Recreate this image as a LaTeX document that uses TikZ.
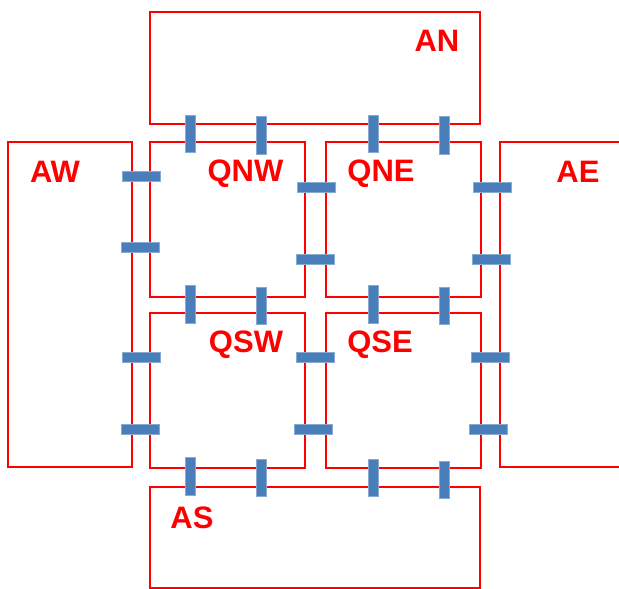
\documentclass[tikz,border=0pt]{standalone}
\usepackage{fontspec}
\setmainfont{Liberation Sans}
\definecolor{boxred}{RGB}{255,0,0}
\definecolor{barblue}{RGB}{74,126,187}
\begin{document}
\begin{tikzpicture}[x=1pt,y=-1pt,
  region/.style={draw=boxred,line width=2.2pt,inner sep=0pt,outer sep=0pt},
  vbar/.style={fill=barblue,draw=barblue!65!white,line width=0.6pt,minimum width=10pt,minimum height=37.5pt,inner sep=0pt},
  hbar/.style={fill=barblue,draw=barblue!65!white,line width=0.6pt,minimum width=38pt,minimum height=10pt,inner sep=0pt},
  lbl/.style={text=boxred,font=\fontsize{31}{31}\selectfont\bfseries,inner sep=0pt,anchor=base}]
\useasboundingbox (0,0) rectangle (619,589);
\clip (0,0) rectangle (619,589);
% regions
\node[region,minimum width=330pt,minimum height=112pt] (AN) at (315,68) {};
\node[region,minimum width=124pt,minimum height=325pt] (AW) at (70,304.5) {};
\node[region,minimum width=150pt,minimum height=325pt] (AE) at (575,304.5) {};
\node[region,minimum width=330pt,minimum height=101.5pt] (AS) at (315,537.5) {};
\node[region,minimum width=155pt,minimum height=155pt] (QNW) at (227.5,219.5) {};
\node[region,minimum width=155pt,minimum height=155pt] (QNE) at (403.5,219.5) {};
\node[region,minimum width=155pt,minimum height=155pt] (QSW) at (227.5,390.2) {};
\node[region,minimum width=155pt,minimum height=155pt] (QSE) at (403.5,390.5) {};
% labels
\node[lbl] (tAN) at (437,51.7) {AN};
\node[lbl] (tAW) at (55,182.3) {AW};
\node[lbl] (tAE) at (578,182.3) {AE};
\node[lbl] (tQNW) at (245.5,181.5) {QNW};
\node[lbl] (tQNE) at (381,181.5) {QNE};
\node[lbl] (tQSW) at (246,352.5) {QSW};
\node[lbl] (tQSE) at (380,352.5) {QSE};
\node[lbl] (tAS) at (192,528.3) {AS};
% vertical bars
\node[vbar] (b1) at (190,134) {};
\node[vbar] (b2) at (261.7,135.5) {};
\node[vbar] (b3) at (373,134) {};
\node[vbar] (b4) at (444.7,135.5) {};
\node[vbar] (b5) at (190,304.5) {};
\node[vbar] (b6) at (261.7,306) {};
\node[vbar] (b7) at (373,304.5) {};
\node[vbar] (b8) at (444.7,306) {};
\node[vbar] (b9) at (190,476.5) {};
\node[vbar] (b10) at (261.7,478) {};
\node[vbar] (b11) at (373,478) {};
\node[vbar] (b12) at (444.7,480) {};
% horizontal bars
\node[hbar] (h1) at (141.7,176) {};
\node[hbar] (h2) at (140,247.5) {};
\node[hbar] (h3) at (316.7,187.5) {};
\node[hbar] (h4) at (315,259) {};
\node[hbar] (h5) at (492.7,187.5) {};
\node[hbar] (h6) at (491,259) {};
\node[hbar] (h7) at (141.7,357.5) {};
\node[hbar] (h8) at (140,429) {};
\node[hbar] (h9) at (315,357.5) {};
\node[hbar] (h10) at (313.3,429) {};
\node[hbar] (h11) at (490.7,357.5) {};
\node[hbar] (h12) at (488.7,429) {};
\end{tikzpicture}
\end{document}
